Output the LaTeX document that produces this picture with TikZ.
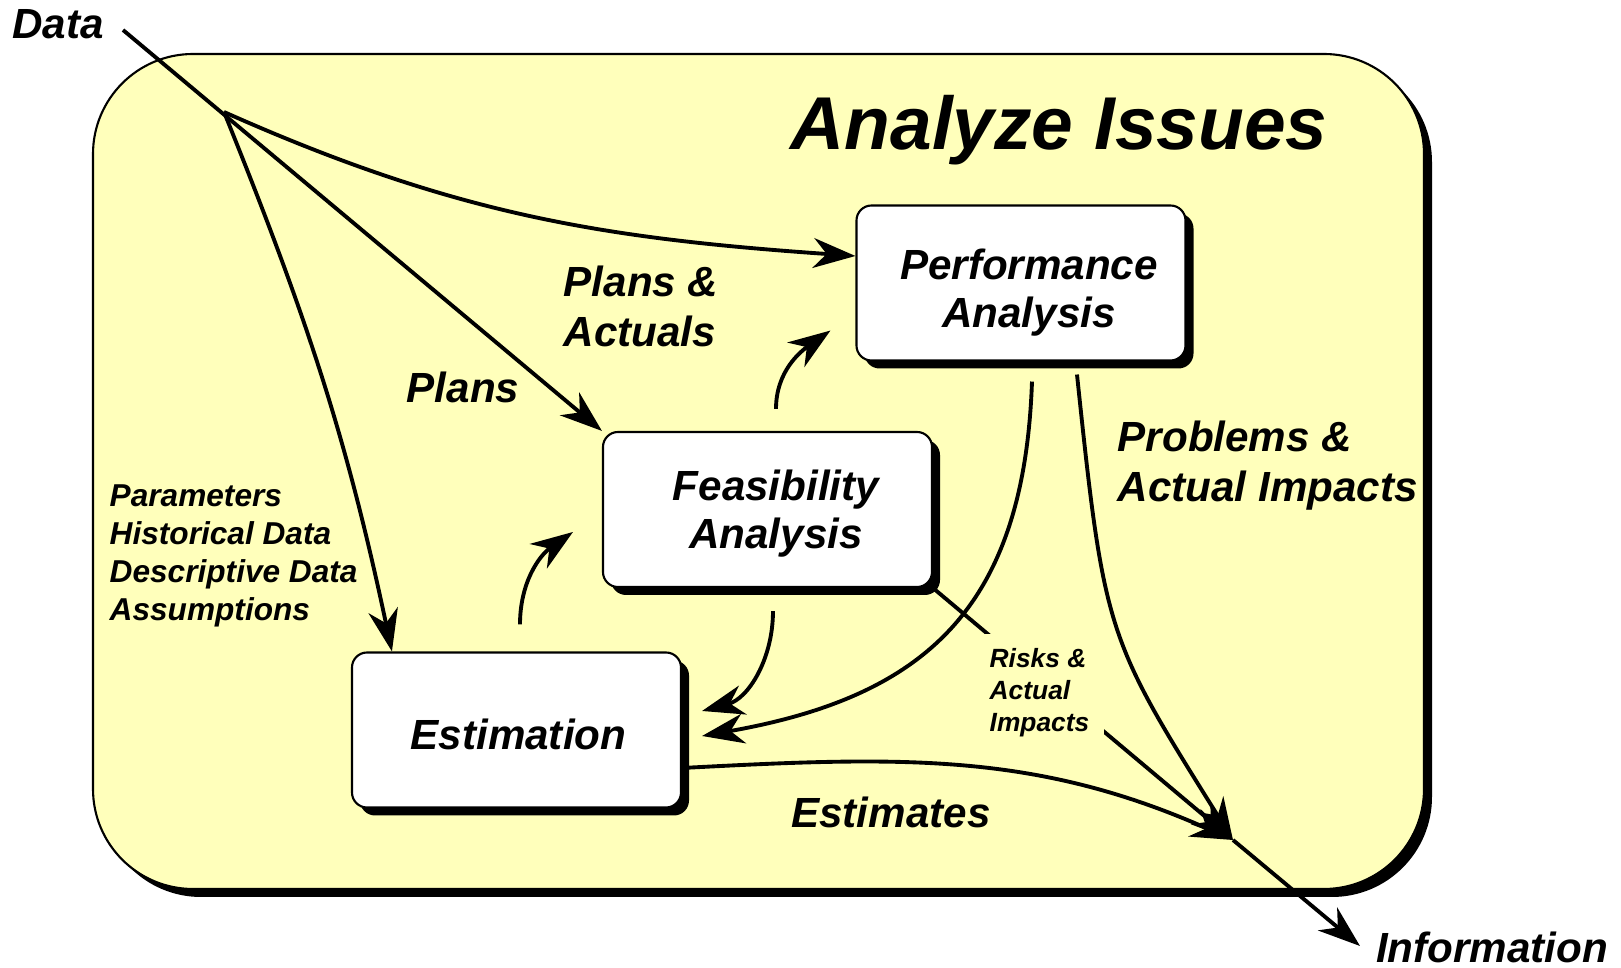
\documentclass[tikz,border=0pt]{standalone}
\usepackage{fontspec}
\setmainfont{Liberation Sans}
\usetikzlibrary{arrows.meta, shadows}
\definecolor{paleyellow}{RGB}{255,255,187}

\begin{document}
\begin{tikzpicture}[
  box/.style={draw, line width=0.6pt, fill=white, rounded corners=0.15cm,
    minimum width=3.29cm, minimum height=1.55cm,
    drop shadow={shadow xshift=0.08cm, shadow yshift=-0.08cm, fill=black, opacity=1}},
  boxtext/.style={inner sep=0pt, align=center, font=\fontsize{12}{13.6}\selectfont\bfseries\itshape},
  lbl/.style={inner sep=0pt, font=\fontsize{12}{14.2}\selectfont\bfseries\itshape},
  flow/.style={line width=1.1pt, -{Stealth[length=12pt, width=8.5pt, inset=3.8pt]}},
]
\useasboundingbox (0,0) rectangle (16.21,-9.68);
% 外框
\fill[black, rounded corners=1cm] (1.01,-0.62) rectangle (14.32,-8.97);
\draw[fill=paleyellow, line width=0.6pt, rounded corners=1cm] (0.93,-0.54) rectangle (14.24,-8.89);
\node[anchor=base, font=\fontsize{21.3}{25}\selectfont\bfseries\itshape] (title) at (10.59,-1.50) {Analyze Issues};
% 三个方框
\node[box] (perf) at (10.21,-2.83) {};
\node[box] (feas) at (7.675,-5.095) {};
\node[box] (est) at (5.165,-7.30) {};
\node[boxtext] (perftext) at (10.29,-2.93) {Performance\\Analysis};
\node[boxtext] (feastext) at (7.76,-5.14) {Feasibility\\Analysis};
\node[boxtext] (esttext) at (5.185,-7.345) {Estimation};
% 文字标签
\node[lbl, anchor=base] (data) at (0.58,-0.39) {Data};
\node[lbl, anchor=base] (info) at (14.92,-9.63) {Information};
\node[lbl, anchor=west, align=left] (planact) at (5.63,-3.06) {Plans \&\\Actuals};
\node[lbl, anchor=base] (plans) at (4.63,-4.03) {Plans};
\node[anchor=west, align=left, inner sep=0pt, font=\fontsize{9}{10.8}\selectfont\bfseries\itshape] (params) at (1.09,-5.56) {Parameters\\Historical Data\\Descriptive Data\\Assumptions};
\node[lbl, anchor=west, align=left] (probs) at (11.17,-4.66) {Problems \&\\Actual Impacts};
\node[lbl, anchor=base] (estim) at (8.91,-8.28) {Estimates};
% 连线
\coordinate (datain) at (1.23,-0.30);
\coordinate (hub) at (2.24,-1.12);
\coordinate (conv) at (12.33,-8.40);
\coordinate (infoout) at (13.60,-9.46);
\draw[flow] (datain) -- (feas.north west);
\draw[flow] (hub) to[out=-24, in=176] ([yshift=0.27cm]perf.west);
\draw[flow] (hub) to[out=-68, in=102] ([xshift=0.41cm]est.north west);
\draw[flow] ([shift={(0.085,0.22)}]feas.north) to[out=90, in=-145] ([shift={(-0.25,0.31)}]perf.south west);
\draw[flow] ([shift={(0.035,0.27)}]est.north) to[out=90, in=-145] ([shift={(-0.29,-0.225)}]feas.west);
\draw[flow] ([shift={(0.055,-0.23)}]feas.south) to[out=-90, in=15] ([shift={(0.20,0.19)}]est.east);
\draw[flow] ([shift={(0.11,-0.20)}]perf.south) to[out=-92, in=10, looseness=1.2] ([shift={(0.20,-0.06)}]est.east);
\draw[flow] ([shift={(0.56,-0.13)}]perf.south) to[out=-84, in=122, out looseness=1.37, in looseness=1.24] (conv);
\draw[flow] ([yshift=-0.38cm]est.east) to[out=3, in=156] (conv);
\draw[flow] (feas.south east) -- (conv);
\draw[flow] (conv) -- (infoout);
\node[anchor=west, align=left, fill=paleyellow, inner sep=0.15cm, font=\fontsize{7.5}{9.1}\selectfont\bfseries\itshape] (risk) at (9.74,-6.93) {Risks \&\\Actual\\Impacts};
\end{tikzpicture}
\end{document}
